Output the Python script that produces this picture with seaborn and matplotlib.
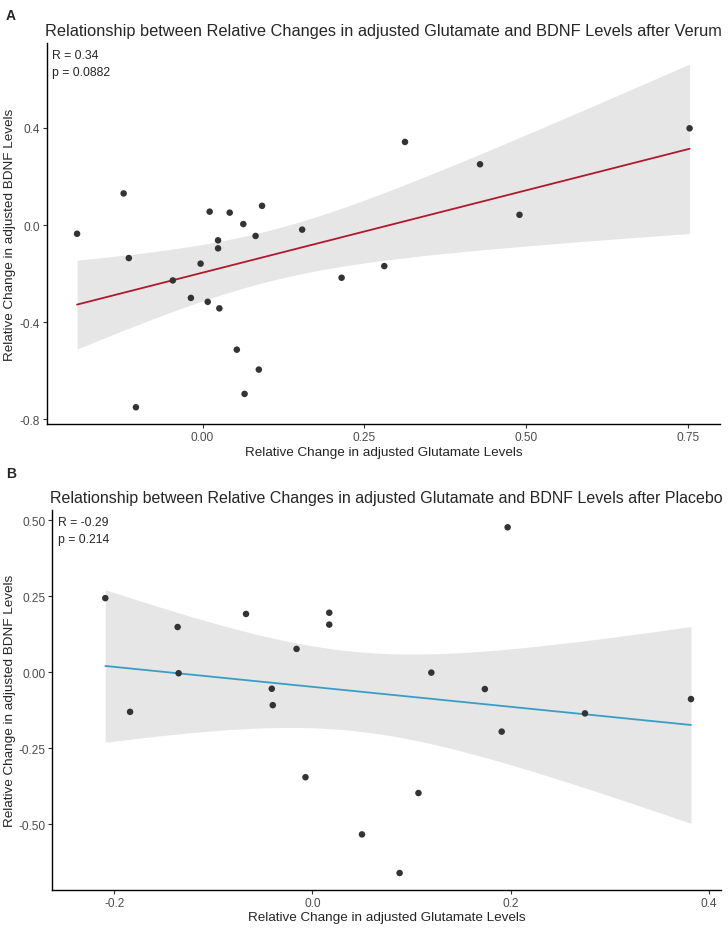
import matplotlib
matplotlib.use('Agg')
import numpy as np
import pandas as pd
import matplotlib.pyplot as plt
import seaborn as sns

sns.set_theme(style="ticks")
plt.rcParams['font.family'] = ['Liberation Sans', 'DejaVu Sans']
plt.rcParams['axes.unicode_minus'] = False

# --- data ---
verum_glu = [-0.194, -0.122, -0.114, -0.103, -0.046, -0.018, -0.003, 0.008, 0.011,
             0.024, 0.024, 0.026, 0.042, 0.053, 0.063, 0.065, 0.082, 0.087, 0.092,
             0.154, 0.215, 0.281, 0.313, 0.429, 0.490, 0.753]
verum_bdnf = [-0.036, 0.130, -0.136, -0.750, -0.228, -0.300, -0.159, -0.316, 0.055,
              -0.063, -0.096, -0.343, 0.051, -0.513, 0.004, -0.695, -0.045, -0.595, 0.079,
              -0.019, -0.217, -0.169, 0.342, 0.250, 0.042, 0.398]

placebo_glu = [-0.209, -0.184, -0.136, -0.135, -0.067, -0.041, -0.040, -0.016, -0.007,
               0.017, 0.017, 0.050, 0.088, 0.107, 0.120, 0.174, 0.191, 0.197, 0.275, 0.382]
placebo_bdnf = [0.244, -0.130, 0.149, -0.003, 0.192, -0.054, -0.108, 0.077, -0.345,
                0.196, 0.157, -0.533, -0.660, -0.397, -0.001, -0.055, -0.195, 0.477, -0.135, -0.088]

verum_xticks = [0.00, 0.25, 0.50, 0.75]
verum_yticks = [0.4, 0.0, -0.4, -0.8]
placebo_xticks = [-0.2, 0.0, 0.2, 0.4]
placebo_yticks = [0.50, 0.25, 0.00, -0.25, -0.50]

XLAB = "Relative Change in adjusted Glutamate Levels"
YLAB = "Relative Change in adjusted BDNF Levels"


def t_crit(df):
    try:
        from scipy import stats
        return stats.t.ppf(0.975, df)
    except ImportError:
        return {18: 2.1009, 24: 2.0639}[df]


def lm_band(x, y, n=200):
    # ordinary least squares with a 95% t confidence band, like geom_smooth(method="lm")
    x = np.asarray(x)
    y = np.asarray(y)
    slope, icpt = np.polyfit(x, y, 1)
    resid = y - (icpt + slope * x)
    s = np.sqrt(np.sum(resid ** 2) / (len(x) - 2))
    grid = np.linspace(x.min(), x.max(), n)
    se = s * np.sqrt(1 / len(x) + (grid - x.mean()) ** 2 / np.sum((x - x.mean()) ** 2))
    fit = icpt + slope * grid
    t = t_crit(len(x) - 2)
    return grid, fit - t * se, fit + t * se


fig = plt.figure(figsize=(7.28, 9.29), dpi=100)
ax_a = fig.add_axes([0.0641, 0.5425, 0.9249, 0.4101])
ax_b = fig.add_axes([0.0718, 0.0412, 0.9182, 0.4088])


def panel(ax, x, y, line_color, title, title_size, stats, xticks, yticks, xfmt, yfmt,
          xlim, ylim):
    df = pd.DataFrame({'glu': x, 'bdnf': y})
    grid, lo, hi = lm_band(x, y)
    ax.fill_between(grid, lo, hi, color='#E6E6E6', linewidth=0, zorder=1)
    sns.regplot(data=df, x='glu', y='bdnf', ax=ax, scatter=False, ci=None,
                color=line_color, line_kws={'linewidth': 1.3, 'zorder': 2})
    sns.scatterplot(data=df, x='glu', y='bdnf', ax=ax, color='#333333',
                    s=22, edgecolor='none', zorder=3)
    ax.set_xlim(*xlim)
    ax.set_ylim(*ylim)
    ax.set_xticks(xticks)
    ax.set_xticklabels([xfmt.format(v) for v in xticks])
    ax.set_yticks(yticks)
    ax.set_yticklabels([yfmt.format(v) for v in yticks])
    ax.tick_params(labelsize=8.6, labelcolor='#4D4D4D', length=3, width=0.8,
                   color='#333333', pad=2)
    sns.despine(ax=ax)
    for s in ['left', 'bottom']:
        ax.spines[s].set_linewidth(1.0)
        ax.spines[s].set_color('black')
    ax.set_xlabel(XLAB, fontsize=9.7, labelpad=2)
    ax.set_ylabel(YLAB, fontsize=9.7)
    # keep the y label just inside the figure's left edge
    pos = ax.get_position()
    ax.yaxis.set_label_coords(-(pos.x0 * 728 - 16) / (pos.width * 728), 0.5)
    ax.set_title(title, fontsize=title_size, pad=6)
    ax.text(0.008, 0.985, stats, transform=ax.transAxes, ha='left', va='top',
            fontsize=8.8, linespacing=1.6)


panel(ax_a, verum_glu, verum_bdnf, '#B2182B',
      "Relationship between Relative Changes in adjusted Glutamate and BDNF Levels after Verum",
      11.8, "R = 0.34\np = 0.0882", verum_xticks, verum_yticks, "{:.2f}", "{:.1f}",
      (-0.241, 0.800), (-0.819, 0.749))
panel(ax_b, placebo_glu, placebo_bdnf, '#3A9DC8',
      "Relationship between Relative Changes in adjusted Glutamate and BDNF Levels after Placebo",
      11.5, "R = -0.29\np = 0.214", placebo_xticks, placebo_yticks, "{:.1f}", "{:.2f}",
      (-0.2625, 0.412), (-0.715, 0.534))

fig.text(0.008, 0.99, "A", fontsize=10, fontweight='bold', ha='left', va='top')
fig.text(0.008, 0.497, "B", fontsize=10, fontweight='bold', ha='left', va='top')

fig.savefig("out.png", dpi=100)
